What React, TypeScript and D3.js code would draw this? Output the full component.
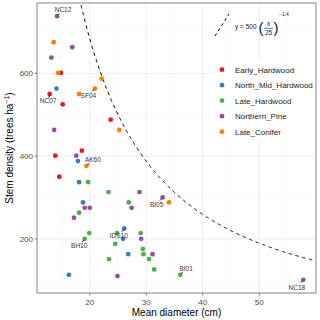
import * as d3 from "d3";

// stand groups (colour legend order)
const groups = ["Early_Hardwood", "North_Mid_Hardwood", "Late_Hardwood", "Northern_Pine", "Late_Conifer"];
const groupColors = ["#E41A1C", "#377EB8", "#4DAF4A", "#984EA3", "#FF7F00"];

// mean diameter (cm) and stem density (trees/ha), one pair of arrays per group
const earlyHardwoodD = [14.9, 12.9, 15.2, 23.7, 18.6, 13.9, 14.6];
const earlyHardwoodN = [601, 550, 525, 488, 413, 401, 350];
const northMidD = [14.1, 17.9, 18.1, 18.8, 26.1, 25.9, 26.8, 16.3];
const northMidN = [563, 388, 337, 288, 225, 200, 163, 113];
const lateHardwoodD = [19.7, 23.3, 26.9, 18.1, 19.9, 19.1, 24.8, 24.5, 29.0, 29.4, 29.5, 23.4, 30.5, 31.4, 36.0];
const lateHardwoodN = [337, 313, 288, 263, 214, 200, 214, 188, 214, 176, 163, 151, 151, 126, 113];
const northernPineD = [14.2, 16.9, 13.2, 13.7, 17.6, 28.8, 32.9, 19.1, 20.0, 27.4, 17.2, 29.1, 31.1, 24.9, 57.8];
const northernPineN = [738, 663, 638, 463, 401, 313, 300, 275, 275, 275, 251, 200, 163, 110, 101];
const lateConiferD = [13.6, 14.4, 22.1, 20.9, 18.1, 25.2, 19.4, 34.0];
const lateConiferN = [675, 601, 587, 563, 550, 463, 376, 288];

// labelled sites: name, group index, point index within group
const labelNames = ["NC12", "NC07", "SF04", "AK60", "BH10", "IDS10", "BI05", "BI01", "NC18"];
const labelGroup = [3, 0, 4, 4, 2, 1, 3, 2, 3];
const labelPoint = [0, 1, 3, 6, 5, 4, 6, 14, 14];

// reference line y = 500 (x/25)^-1.4
const refA = 500;
const refX0 = 25;
const refB = -1.4;

const xTicks = [20, 30, 40, 50];
const yTicks = [200, 400, 600];

// label offsets (px) from point to label centre
const labelOffsets: [number, number][] = [
  [6, -6], [-1.5, 7], [-6.5, 7], [6.5, -6], [-5.5, 7], [-5.5, 7.5], [-6, 7], [6, -6.5], [-6.5, 7.5],
];

const W = 320, H = 320;
const panel = { left: 37, right: 316, top: 3, bottom: 293 };

export default function App() {
  const dData = [earlyHardwoodD, northMidD, lateHardwoodD, northernPineD, lateConiferD];
  const nData = [earlyHardwoodN, northMidN, lateHardwoodN, northernPineN, lateConiferN];

  const allD = ([] as number[]).concat(...dData);
  const allN = ([] as number[]).concat(...nData);
  const [dMin, dMax] = d3.extent(allD) as [number, number];
  const [nMin, nMax] = d3.extent(allN) as [number, number];
  const dPad = (dMax - dMin) * 0.05, nPad = (nMax - nMin) * 0.05;

  const x = d3.scaleLinear().domain([dMin - dPad, dMax + dPad]).range([panel.left, panel.right]);
  const y = d3.scaleLinear().domain([nMin - nPad, nMax + nPad]).range([panel.bottom, panel.top]);

  const xMinor = d3.range(15, 60, 10);
  const yMinor = d3.range(100, 800, 200);

  // curve, clipped to the panel
  const curveXs = d3.range(x.domain()[0], x.domain()[1], 0.1);
  const curvePts = curveXs
    .map((d) => [d, refA * Math.pow(d / refX0, refB)])
    .filter((p) => p[1] <= y.domain()[1]);
  const line = d3.line<number[]>().x((p) => x(p[0])).y((p) => y(p[1]));

  const font = "'Liberation Sans', Arial, sans-serif";

  return (
    <svg width={W} height={H} style={{ position: "absolute", left: 0, top: 0, fontFamily: font }}>
      <rect x={0} y={0} width={W} height={H} fill="white" />
      {/* grid */}
      <g>
        {xMinor.map((v) => (
          <line key={"xm" + v} x1={x(v)} x2={x(v)} y1={panel.top} y2={panel.bottom} stroke="#F2F2F2" strokeWidth={0.5} />
        ))}
        {yMinor.map((v) => (
          <line key={"ym" + v} x1={panel.left} x2={panel.right} y1={y(v)} y2={y(v)} stroke="#F2F2F2" strokeWidth={0.5} />
        ))}
        {xTicks.map((v) => (
          <line key={"xg" + v} x1={x(v)} x2={x(v)} y1={panel.top} y2={panel.bottom} stroke="#EBEBEB" strokeWidth={1} />
        ))}
        {yTicks.map((v) => (
          <line key={"yg" + v} x1={panel.left} x2={panel.right} y1={y(v)} y2={y(v)} stroke="#EBEBEB" strokeWidth={1} />
        ))}
      </g>

      {/* reference curve */}
      <path d={line(curvePts) || ""} fill="none" stroke="black" strokeWidth={1} strokeDasharray="3.5,3.5" />

      {/* points */}
      <g>
        {dData.map((ds, gi) =>
          ds.map((d, i) => (
            <circle key={gi + "-" + i} cx={x(d)} cy={y(nData[gi][i])} r={2.4} fill={groupColors[gi]} />
          ))
        )}
      </g>

      {/* site labels */}
      <g fontSize={6.5} fill="#333" textAnchor="middle">
        {labelNames.map((name, k) => {
          const px = x(dData[labelGroup[k]][labelPoint[k]]);
          const py = y(nData[labelGroup[k]][labelPoint[k]]);
          const [dx, dy] = labelOffsets[k];
          const len = Math.hypot(dx, dy);
          const ux = dx / len, uy = dy / len;
          return (
            <g key={name}>
              <line x1={px + ux * 1.2} y1={py + uy * 1.2} x2={px + ux * 4} y2={py + uy * 4} stroke="black" strokeWidth={0.8} />
              <text x={px + dx} y={py + dy + 2.3}>{name}</text>
            </g>
          );
        })}
      </g>

      {/* panel border */}
      <rect x={panel.left} y={panel.top} width={panel.right - panel.left} height={panel.bottom - panel.top} fill="none" stroke="#333" strokeWidth={0.6} />

      {/* axes ticks */}
      <g fontSize={8} fill="#4D4D4D">
        {xTicks.map((v) => (
          <g key={"xt" + v}>
            <line x1={x(v)} x2={x(v)} y1={panel.bottom} y2={panel.bottom + 2.5} stroke="#333" strokeWidth={0.6} />
            <text x={x(v)} y={panel.bottom + 11.5} textAnchor="middle">{v}</text>
          </g>
        ))}
        {yTicks.map((v) => (
          <g key={"yt" + v}>
            <line x1={panel.left - 2.5} x2={panel.left} y1={y(v)} y2={y(v)} stroke="#333" strokeWidth={0.6} />
            <text x={panel.left - 4} y={y(v) + 2.9} textAnchor="end">{v}</text>
          </g>
        ))}
      </g>

      {/* axis titles */}
      <text x={(panel.left + panel.right) / 2} y={316} fontSize={10} textAnchor="middle" fill="black">Mean diameter (cm)</text>
      <text transform={`translate(13, ${(panel.top + panel.bottom) / 2}) rotate(-90)`} fontSize={10} textAnchor="middle" fill="black">
        Stem density (trees ha<tspan dy={-4} fontSize={7}>−1</tspan><tspan dy={4}>)</tspan>
      </text>

      {/* formula legend */}
      <g fill="#1A1A1A">
        <line x1={215} y1={36} x2={229} y2={14} stroke="black" strokeWidth={1} strokeDasharray="3,3" />
        <text x={235} y={28.5} fontSize={6.5}>y = 500</text>
        <text x={258.5} y={33} fontSize={15} fontWeight={100}>(</text>
        <text x={268.5} y={26} fontSize={6.5} textAnchor="middle">x</text>
        <line x1={264} x2={273} y1={28.3} y2={28.3} stroke="#1A1A1A" strokeWidth={0.6} />
        <text x={268.5} y={34.5} fontSize={6.5} textAnchor="middle">25</text>
        <text x={273.5} y={33} fontSize={15} fontWeight={100}>)</text>
        <text x={279} y={16} fontSize={5}>−1.4</text>
      </g>

      {/* colour legend */}
      <g>
        <rect x={214} y={60} width={101} height={80} fill="white" />
        {groups.map((g, i) => (
          <g key={g}>
            <circle cx={222} cy={69.7 + i * 15.5} r={2.4} fill={groupColors[i]} />
            <text x={235} y={69.7 + i * 15.5 + 2.9} fontSize={8} fill="#1A1A1A">{g}</text>
          </g>
        ))}
      </g>
    </svg>
  );
}
